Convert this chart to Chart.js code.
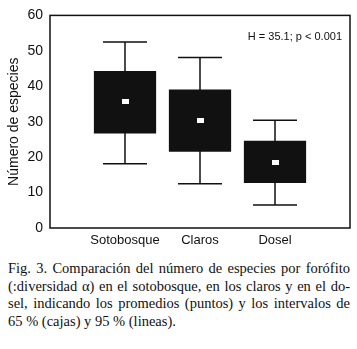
<!DOCTYPE html>
<html>
<head>
<meta charset="utf-8">
<script src="https://cdn.jsdelivr.net/npm/chart.js@4"></script>
<style>
  body { margin: 0; background: #fff; }
  #wrap { width: 357px; height: 255px; }
  #caption {
    font-family: "Liberation Serif", serif;
    font-size: 14.5px;
    line-height: 17.5px;
    margin: 5px 7px 0 8px;
    color: #111;
    white-space: nowrap;
  }
  #caption .j { text-align: justify; text-align-last: justify; }
</style>
</head>
<body>
<div id="wrap"><canvas id="chart"></canvas></div>
<div id="caption">
  <div class="j">Fig. 3. Comparación del número de especies por forófito</div>
  <div class="j">(:diversidad α) en el sotobosque, en los claros y en el do-</div>
  <div class="j">sel, indicando los promedios (puntos) y los intervalos de</div>
  <div>65 % (cajas) y 95 % (lineas).</div>
</div>
<script>
// empty slots at both ends so the three groups sit at 1/4, 2/4, 3/4 of the width
const categories = ["", "Sotobosque", "Claros", "Dosel", ""];
const boxLow = [null, 26.7, 21.5, 12.7, null];
const boxHigh = [null, 44.3, 39.1, 24.6, null];
const whiskerLow = [null, 18.1, 12.5, 6.5, null];
const whiskerHigh = [null, 52.5, 48.1, 30.4, null];
const means = [null, 35.6, 30.2, 18.4, null];
const statText = "H = 35.1; p < 0.001";

const font = "'Liberation Sans', Arial, sans-serif";

// little white rectangle for the means
const meanMark = document.createElement("canvas");
meanMark.width = 7;
meanMark.height = 5;
const mctx = meanMark.getContext("2d");
mctx.fillStyle = "#fff";
mctx.fillRect(0, 0, 7, 5);

const whiskers = {
    id: "whiskers",
    beforeDatasetsDraw(chart) {
        const ctx = chart.ctx;
        const x = chart.scales.x;
        const y = chart.scales.y;
        ctx.save();
        ctx.strokeStyle = "#111";
        ctx.lineWidth = 1.5;
        for (let i = 0; i < categories.length; i++) {
            if (whiskerLow[i] == null) continue;
            const px = x.getPixelForValue(i);
            const lo = y.getPixelForValue(whiskerLow[i]);
            const hi = y.getPixelForValue(whiskerHigh[i]);
            ctx.beginPath();
            ctx.moveTo(px, lo);
            ctx.lineTo(px, hi);
            ctx.moveTo(px - 22, lo);
            ctx.lineTo(px + 22, lo);
            ctx.moveTo(px - 22, hi);
            ctx.lineTo(px + 22, hi);
            ctx.stroke();
        }
        ctx.restore();
    },
    afterDraw(chart) {
        const ctx = chart.ctx;
        const a = chart.chartArea;
        ctx.save();
        ctx.strokeStyle = "#111";
        ctx.lineWidth = 1.5;
        ctx.strokeRect(a.left, a.top, a.right - a.left, a.bottom - a.top);
        ctx.fillStyle = "#111";
        ctx.font = "11px " + font;
        ctx.textAlign = "right";
        ctx.textBaseline = "middle";
        ctx.fillText(statText, a.right - 8, a.top + 22);
        ctx.restore();
    },
};

new Chart(document.getElementById("chart"), {
    type: "bar",
    data: {
        labels: categories,
        datasets: [
            {
                type: "line",
                label: "Promedio",
                data: means,
                showLine: false,
                pointStyle: meanMark,
                pointRadius: 4,
            },
            {
                label: "65 %",
                data: boxLow.map((v, i) => (v == null ? null : [v, boxHigh[i]])),
                backgroundColor: "#111",
                barPercentage: 0.83,
                categoryPercentage: 1,
            },
        ],
    },
    options: {
        animation: false,
        responsive: true,
        maintainAspectRatio: false,
        layout: {
            padding: { left: 0, right: 7, top: 10, bottom: 0 },
        },
        plugins: {
            legend: { display: false },
            tooltip: { enabled: false },
        },
        scales: {
            x: {
                offset: false,
                grid: { display: false, drawTicks: false },
                border: { display: false },
                ticks: {
                    color: "#111",
                    font: { family: font, size: 13 },
                    padding: 5,
                    maxRotation: 0,
                    autoSkip: false,
                },
                afterFit(scale) {
                    scale.height = 27;
                },
            },
            y: {
                min: 0,
                max: 60,
                grid: { display: false, drawTicks: false },
                border: { display: false },
                ticks: {
                    stepSize: 10,
                    color: "#111",
                    font: { family: font, size: 14 },
                    padding: 7,
                },
                title: {
                    display: true,
                    text: "Número de especies",
                    color: "#111",
                    font: { family: font, size: 14 },
                    padding: { top: 6, bottom: 0 },
                },
                afterFit(scale) {
                    scale.width = 50;
                },
            },
        },
    },
    plugins: [whiskers],
});
</script>
</body>
</html>
